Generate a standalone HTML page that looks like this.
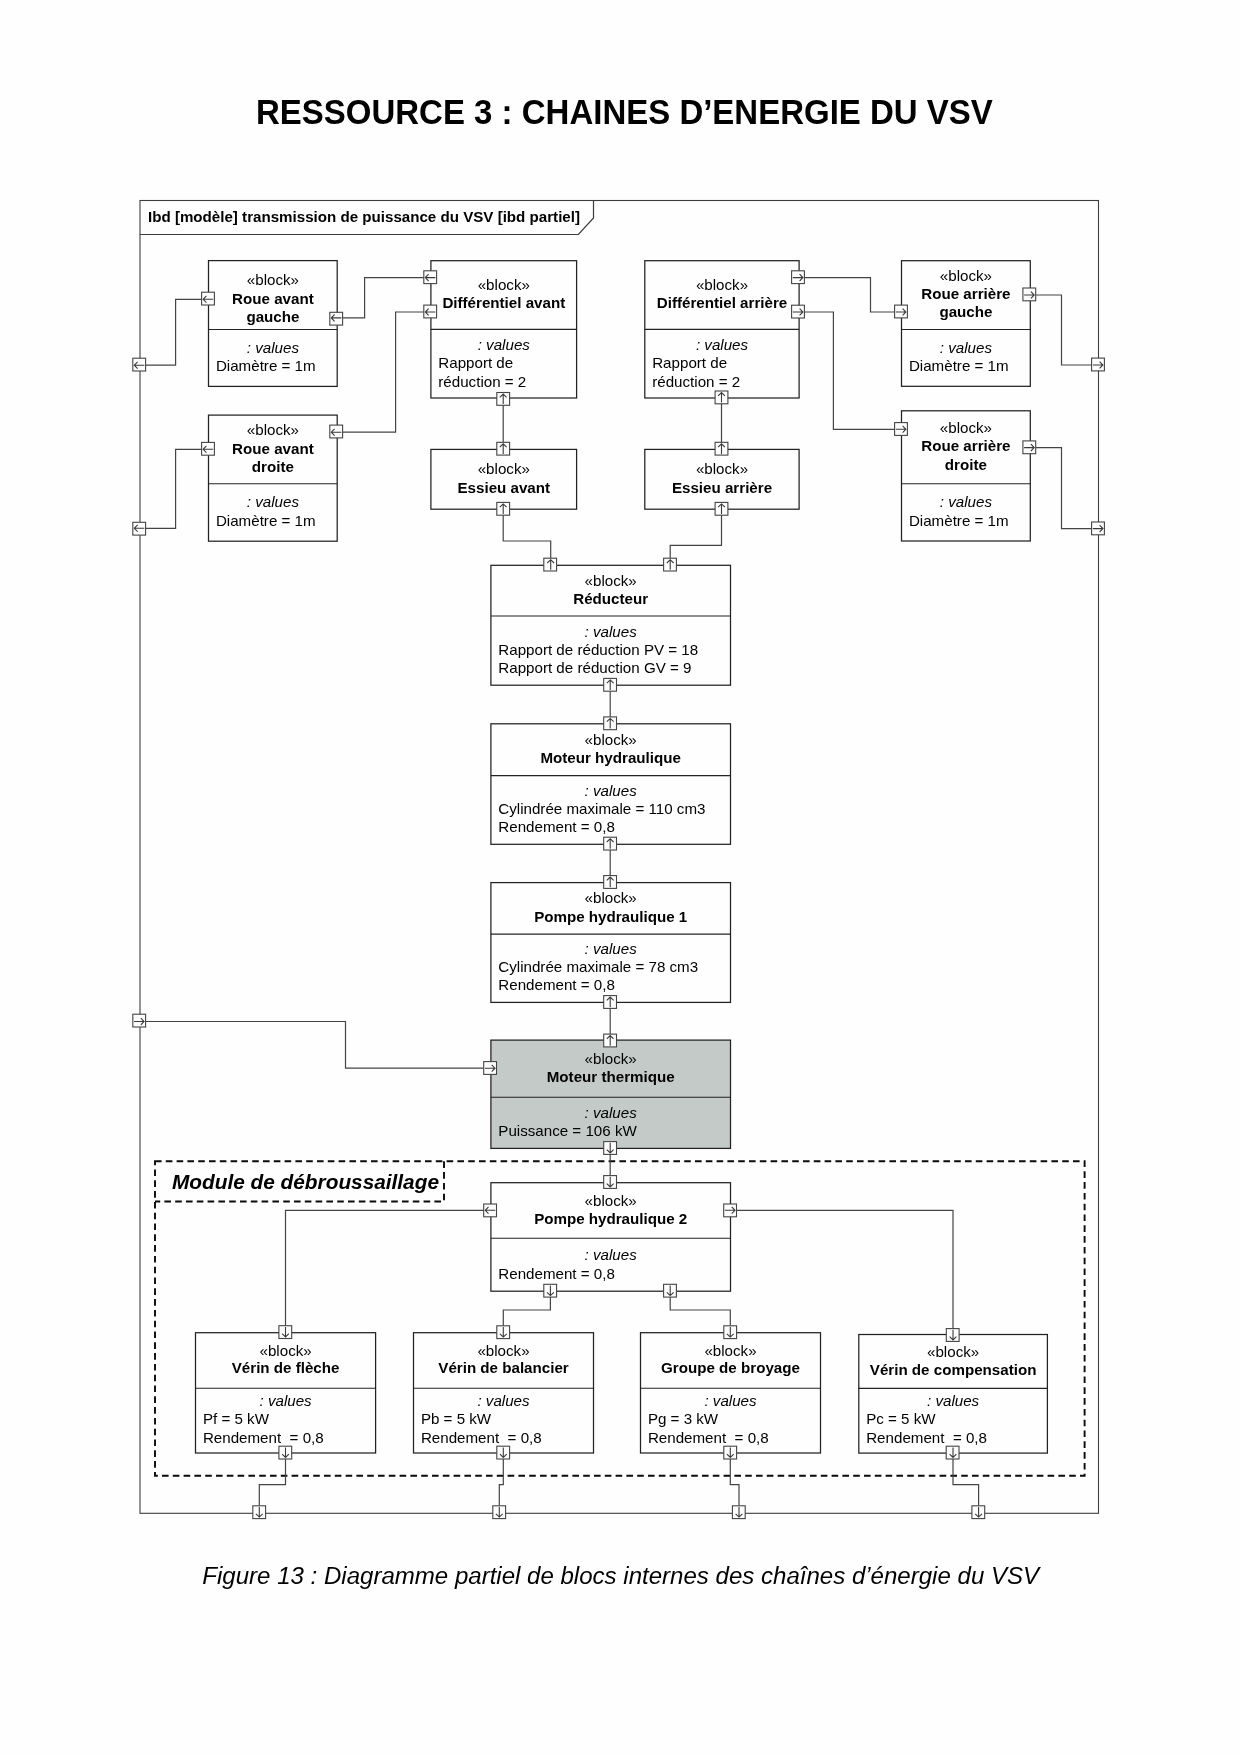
<!DOCTYPE html>
<html lang="fr"><head><meta charset="utf-8"><title>RESSOURCE 3 : CHAINES D’ENERGIE DU VSV</title>
<style>html,body{margin:0;padding:0;background:#fefefe}body{width:1240px;height:1754px;overflow:hidden}svg{display:block;font-family:"Liberation Sans",sans-serif;will-change:transform;opacity:.999}</style></head><body>
<svg width="1240" height="1754" viewBox="0 0 1240 1754" font-family="Liberation Sans, sans-serif" font-size="15.15" fill="#000">
<rect x="0" y="0" width="1240" height="1754" fill="#fefefe"/>
<g transform="translate(624.4 123.8) scale(1 1.055)">
<text x="0" y="0" text-anchor="middle" font-weight="bold" font-size="33.0">RESSOURCE 3 : CHAINES D’ENERGIE DU VSV</text>
</g>
<rect x="140.0" y="200.5" width="958.5" height="1312.8" fill="none" stroke="#3c3c3c" stroke-width="1.1"/>
<path d="M140.0 234.5 H578.4 L593.5 218 V200.5" fill="none" stroke="#3c3c3c" stroke-width="1.2"/>
<text x="148.0" y="222.1" font-weight="bold" font-size="15.14">Ibd [modèle] transmission de puissance du VSV [ibd partiel]</text>
<g fill="none" stroke="#0a0a0a" stroke-width="1.9" stroke-dasharray="6.6 4.2">
<rect x="155.0" y="1161.3" width="929.6" height="314.4"/>
<path d="M444.0 1161.3 V1201.5 H155.0"/>
</g>
<text x="172.0" y="1188.6" font-weight="bold" font-style="italic" font-size="20.8">Module de débroussaillage</text>
<g fill="none" stroke="#444" stroke-width="1.2" stroke-linejoin="miter">
<path d="M430.2 277.6 L364.6 277.6 L364.6 317.9 L336.5 317.9"/>
<path d="M430.2 312.0 L395.6 312.0 L395.6 432.2 L336.5 432.2"/>
<path d="M208.0 299.3 L175.6 299.3 L175.6 365.2 L139.5 365.2"/>
<path d="M208.0 449.3 L175.6 449.3 L175.6 528.3 L139.5 528.3"/>
<path d="M503.2 449.0 L503.2 398.0"/>
<path d="M503.2 509.0 L503.2 541.0 L550.7 541.0 L550.7 565.0"/>
<path d="M721.5 449.0 L721.5 398.0"/>
<path d="M721.5 509.0 L721.5 545.3 L670.2 545.3 L670.2 565.0"/>
<path d="M798.5 277.6 L870.5 277.6 L870.5 312.0 L901.0 312.0"/>
<path d="M798.5 312.0 L833.4 312.0 L833.4 429.3 L901.0 429.3"/>
<path d="M1029.5 295.0 L1061.5 295.0 L1061.5 365.0 L1098.0 365.0"/>
<path d="M1029.5 447.6 L1061.5 447.6 L1061.5 528.6 L1098.0 528.6"/>
<path d="M610.2 685.0 L610.2 724.0"/>
<path d="M610.2 844.0 L610.2 882.5"/>
<path d="M610.2 1002.0 L610.2 1040.5"/>
<path d="M610.2 1148.0 L610.2 1182.5"/>
<path d="M139.5 1021.5 L345.5 1021.5 L345.5 1068.2 L490.0 1068.2"/>
<path d="M490.0 1210.3 L285.5 1210.3 L285.5 1332.0"/>
<path d="M730.0 1210.3 L953.0 1210.3 L953.0 1334.0"/>
<path d="M550.4 1291.0 L550.4 1310.0 L503.3 1310.0 L503.3 1332.0"/>
<path d="M670.2 1291.0 L670.2 1310.0 L730.3 1310.0 L730.3 1332.0"/>
<path d="M285.5 1452.5 L285.5 1484.6 L259.3 1484.6 L259.3 1512.5"/>
<path d="M503.3 1452.5 L503.3 1484.6 L499.3 1484.6 L499.3 1512.5"/>
<path d="M730.3 1452.5 L730.3 1484.6 L739.0 1484.6 L739.0 1512.5"/>
<path d="M953.0 1452.5 L953.0 1484.6 L978.6 1484.6 L978.6 1512.5"/>
</g>
<rect x="208.5" y="260.6" width="128.7" height="125.8" fill="#fefefe" stroke="#222" stroke-width="1.25"/>
<path d="M208.5 329.5 H337.2" stroke="#222" stroke-width="1.1"/>
<text x="272.9" y="285.0" text-anchor="middle">«block»</text>
<text x="272.9" y="303.7" text-anchor="middle" font-weight="bold">Roue avant</text>
<text x="272.9" y="322.3" text-anchor="middle" font-weight="bold">gauche</text>
<text x="272.9" y="352.6" text-anchor="middle" font-style="italic">: values</text>
<text x="215.9" y="371.4">Diamètre = 1m</text>
<rect x="208.5" y="415.1" width="128.7" height="126.1" fill="#fefefe" stroke="#222" stroke-width="1.25"/>
<path d="M208.5 483.8 H337.2" stroke="#222" stroke-width="1.1"/>
<text x="272.9" y="435.0" text-anchor="middle">«block»</text>
<text x="272.9" y="453.7" text-anchor="middle" font-weight="bold">Roue avant</text>
<text x="272.9" y="472.0" text-anchor="middle" font-weight="bold">droite</text>
<text x="272.9" y="507.4" text-anchor="middle" font-style="italic">: values</text>
<text x="215.9" y="525.7">Diamètre = 1m</text>
<rect x="430.9" y="260.7" width="145.7" height="137.3" fill="#fefefe" stroke="#222" stroke-width="1.25"/>
<path d="M430.9 329.4 H576.6" stroke="#222" stroke-width="1.1"/>
<text x="503.8" y="289.6" text-anchor="middle">«block»</text>
<text x="503.8" y="307.7" text-anchor="middle" font-weight="bold">Différentiel avant</text>
<text x="503.8" y="349.6" text-anchor="middle" font-style="italic">: values</text>
<text x="438.3" y="368.1">Rapport de</text>
<text x="438.3" y="386.7">réduction = 2</text>
<rect x="430.9" y="449.4" width="145.7" height="59.8" fill="#fefefe" stroke="#222" stroke-width="1.25"/>
<text x="503.8" y="474.2" text-anchor="middle">«block»</text>
<text x="503.8" y="492.5" text-anchor="middle" font-weight="bold">Essieu avant</text>
<rect x="644.8" y="260.7" width="154.3" height="137.3" fill="#fefefe" stroke="#222" stroke-width="1.25"/>
<path d="M644.8 329.4 H799.1" stroke="#222" stroke-width="1.1"/>
<text x="722.0" y="289.6" text-anchor="middle">«block»</text>
<text x="722.0" y="307.7" text-anchor="middle" font-weight="bold">Différentiel arrière</text>
<text x="722.0" y="349.6" text-anchor="middle" font-style="italic">: values</text>
<text x="652.2" y="368.1">Rapport de</text>
<text x="652.2" y="386.7">réduction = 2</text>
<rect x="644.8" y="449.4" width="154.3" height="59.8" fill="#fefefe" stroke="#222" stroke-width="1.25"/>
<text x="722.0" y="474.2" text-anchor="middle">«block»</text>
<text x="722.0" y="492.5" text-anchor="middle" font-weight="bold">Essieu arrière</text>
<rect x="901.5" y="260.7" width="128.8" height="125.6" fill="#fefefe" stroke="#222" stroke-width="1.25"/>
<path d="M901.5 329.5 H1030.3" stroke="#222" stroke-width="1.1"/>
<text x="965.9" y="280.5" text-anchor="middle">«block»</text>
<text x="965.9" y="298.9" text-anchor="middle" font-weight="bold">Roue arrière</text>
<text x="965.9" y="317.3" text-anchor="middle" font-weight="bold">gauche</text>
<text x="965.9" y="352.6" text-anchor="middle" font-style="italic">: values</text>
<text x="908.9" y="371.4">Diamètre = 1m</text>
<rect x="901.5" y="410.8" width="128.8" height="130.2" fill="#fefefe" stroke="#222" stroke-width="1.25"/>
<path d="M901.5 483.8 H1030.3" stroke="#222" stroke-width="1.1"/>
<text x="965.9" y="432.5" text-anchor="middle">«block»</text>
<text x="965.9" y="451.3" text-anchor="middle" font-weight="bold">Roue arrière</text>
<text x="965.9" y="469.5" text-anchor="middle" font-weight="bold">droite</text>
<text x="965.9" y="507.4" text-anchor="middle" font-style="italic">: values</text>
<text x="908.9" y="525.7">Diamètre = 1m</text>
<rect x="490.9" y="565.3" width="239.6" height="119.9" fill="#fefefe" stroke="#222" stroke-width="1.25"/>
<path d="M490.9 616.0 H730.5" stroke="#222" stroke-width="1.1"/>
<text x="610.7" y="585.6" text-anchor="middle">«block»</text>
<text x="610.7" y="604.0" text-anchor="middle" font-weight="bold">Réducteur</text>
<text x="610.7" y="636.5" text-anchor="middle" font-style="italic">: values</text>
<text x="498.3" y="654.8">Rapport de réduction PV = 18</text>
<text x="498.3" y="673.3">Rapport de réduction GV = 9</text>
<rect x="490.9" y="723.8" width="239.6" height="120.5" fill="#fefefe" stroke="#222" stroke-width="1.25"/>
<path d="M490.9 775.6 H730.5" stroke="#222" stroke-width="1.1"/>
<text x="610.7" y="744.9" text-anchor="middle">«block»</text>
<text x="610.7" y="762.8" text-anchor="middle" font-weight="bold">Moteur hydraulique</text>
<text x="610.7" y="795.5" text-anchor="middle" font-style="italic">: values</text>
<text x="498.3" y="813.7">Cylindrée maximale = 110 cm3</text>
<text x="498.3" y="831.9">Rendement = 0,8</text>
<rect x="490.9" y="882.6" width="239.6" height="119.8" fill="#fefefe" stroke="#222" stroke-width="1.25"/>
<path d="M490.9 934.1 H730.5" stroke="#222" stroke-width="1.1"/>
<text x="610.7" y="903.4" text-anchor="middle">«block»</text>
<text x="610.7" y="921.5" text-anchor="middle" font-weight="bold">Pompe hydraulique 1</text>
<text x="610.7" y="953.8" text-anchor="middle" font-style="italic">: values</text>
<text x="498.3" y="972.3">Cylindrée maximale = 78 cm3</text>
<text x="498.3" y="990.3">Rendement = 0,8</text>
<rect x="490.9" y="1040.1" width="239.6" height="108.3" fill="#c3cac8" stroke="#222" stroke-width="1.25"/>
<path d="M490.9 1097.3 H730.5" stroke="#222" stroke-width="1.1"/>
<text x="610.7" y="1064.0" text-anchor="middle">«block»</text>
<text x="610.7" y="1082.0" text-anchor="middle" font-weight="bold">Moteur thermique</text>
<text x="610.7" y="1118.0" text-anchor="middle" font-style="italic">: values</text>
<text x="498.3" y="1135.5">Puissance = 106 kW</text>
<rect x="490.9" y="1182.7" width="239.6" height="108.5" fill="#fefefe" stroke="#222" stroke-width="1.25"/>
<path d="M490.9 1238.3 H730.5" stroke="#222" stroke-width="1.1"/>
<text x="610.7" y="1205.5" text-anchor="middle">«block»</text>
<text x="610.7" y="1223.6" text-anchor="middle" font-weight="bold">Pompe hydraulique 2</text>
<text x="610.7" y="1259.9" text-anchor="middle" font-style="italic">: values</text>
<text x="498.3" y="1278.7">Rendement = 0,8</text>
<rect x="195.5" y="1332.7" width="180.1" height="120.3" fill="#fefefe" stroke="#222" stroke-width="1.25"/>
<path d="M195.5 1388.3 H375.6" stroke="#222" stroke-width="1.1"/>
<text x="285.6" y="1355.5" text-anchor="middle">«block»</text>
<text x="285.6" y="1373.3" text-anchor="middle" font-weight="bold">Vérin de flèche</text>
<text x="285.6" y="1406.4" text-anchor="middle" font-style="italic">: values</text>
<text x="202.9" y="1424.3">Pf = 5 kW</text>
<text x="202.9" y="1442.9">Rendement  = 0,8</text>
<rect x="413.5" y="1332.7" width="180.0" height="120.3" fill="#fefefe" stroke="#222" stroke-width="1.25"/>
<path d="M413.5 1388.3 H593.5" stroke="#222" stroke-width="1.1"/>
<text x="503.5" y="1355.5" text-anchor="middle">«block»</text>
<text x="503.5" y="1373.3" text-anchor="middle" font-weight="bold">Vérin de balancier</text>
<text x="503.5" y="1406.4" text-anchor="middle" font-style="italic">: values</text>
<text x="420.9" y="1424.3">Pb = 5 kW</text>
<text x="420.9" y="1442.9">Rendement  = 0,8</text>
<rect x="640.5" y="1332.7" width="180.0" height="120.3" fill="#fefefe" stroke="#222" stroke-width="1.25"/>
<path d="M640.5 1388.3 H820.5" stroke="#222" stroke-width="1.1"/>
<text x="730.5" y="1355.5" text-anchor="middle">«block»</text>
<text x="730.5" y="1373.3" text-anchor="middle" font-weight="bold">Groupe de broyage</text>
<text x="730.5" y="1406.4" text-anchor="middle" font-style="italic">: values</text>
<text x="647.9" y="1424.3">Pg = 3 kW</text>
<text x="647.9" y="1442.9">Rendement  = 0,8</text>
<rect x="858.8" y="1334.5" width="188.6" height="118.6" fill="#fefefe" stroke="#222" stroke-width="1.25"/>
<path d="M858.8 1388.4 H1047.4" stroke="#222" stroke-width="1.1"/>
<text x="953.1" y="1357.0" text-anchor="middle">«block»</text>
<text x="953.1" y="1374.7" text-anchor="middle" font-weight="bold">Vérin de compensation</text>
<text x="953.1" y="1406.4" text-anchor="middle" font-style="italic">: values</text>
<text x="866.2" y="1424.3">Pc = 5 kW</text>
<text x="866.2" y="1442.9">Rendement  = 0,8</text>
<g fill="#fefefe" stroke="#444" stroke-width="1.1">
<rect x="423.80" y="270.80" width="12.8" height="12.8"/>
<rect x="423.80" y="305.10" width="12.8" height="12.8"/>
<rect x="329.80" y="312.30" width="12.8" height="12.8"/>
<rect x="329.80" y="425.10" width="12.8" height="12.8"/>
<rect x="201.60" y="292.20" width="12.8" height="12.8"/>
<rect x="201.60" y="442.40" width="12.8" height="12.8"/>
<rect x="132.80" y="358.20" width="12.8" height="12.8"/>
<rect x="132.80" y="522.30" width="12.8" height="12.8"/>
<rect x="496.80" y="392.50" width="12.8" height="12.8"/>
<rect x="496.80" y="442.30" width="12.8" height="12.8"/>
<rect x="496.80" y="502.40" width="12.8" height="12.8"/>
<rect x="543.80" y="558.20" width="12.8" height="12.8"/>
<rect x="715.10" y="391.00" width="12.8" height="12.8"/>
<rect x="715.10" y="442.30" width="12.8" height="12.8"/>
<rect x="715.10" y="502.40" width="12.8" height="12.8"/>
<rect x="663.60" y="558.20" width="12.8" height="12.8"/>
<rect x="791.60" y="270.80" width="12.8" height="12.8"/>
<rect x="791.60" y="305.20" width="12.8" height="12.8"/>
<rect x="894.60" y="305.10" width="12.8" height="12.8"/>
<rect x="894.60" y="422.60" width="12.8" height="12.8"/>
<rect x="1022.90" y="288.00" width="12.8" height="12.8"/>
<rect x="1022.90" y="440.90" width="12.8" height="12.8"/>
<rect x="1091.60" y="358.10" width="12.8" height="12.8"/>
<rect x="1091.60" y="522.00" width="12.8" height="12.8"/>
<rect x="603.70" y="678.40" width="12.8" height="12.8"/>
<rect x="603.70" y="716.90" width="12.8" height="12.8"/>
<rect x="603.70" y="837.20" width="12.8" height="12.8"/>
<rect x="603.70" y="875.60" width="12.8" height="12.8"/>
<rect x="603.70" y="995.60" width="12.8" height="12.8"/>
<rect x="603.70" y="1034.10" width="12.8" height="12.8"/>
<rect x="603.70" y="1141.60" width="12.8" height="12.8"/>
<rect x="603.70" y="1175.60" width="12.8" height="12.8"/>
<rect x="132.80" y="1014.20" width="12.8" height="12.8"/>
<rect x="483.70" y="1061.60" width="12.8" height="12.8"/>
<rect x="483.70" y="1204.00" width="12.8" height="12.8"/>
<rect x="723.70" y="1204.00" width="12.8" height="12.8"/>
<rect x="543.80" y="1284.30" width="12.8" height="12.8"/>
<rect x="663.60" y="1284.30" width="12.8" height="12.8"/>
<rect x="278.90" y="1325.70" width="12.8" height="12.8"/>
<rect x="496.80" y="1325.80" width="12.8" height="12.8"/>
<rect x="723.80" y="1325.80" width="12.8" height="12.8"/>
<rect x="946.30" y="1328.60" width="12.8" height="12.8"/>
<rect x="278.90" y="1446.20" width="12.8" height="12.8"/>
<rect x="496.80" y="1446.20" width="12.8" height="12.8"/>
<rect x="723.80" y="1446.20" width="12.8" height="12.8"/>
<rect x="946.20" y="1446.20" width="12.8" height="12.8"/>
<rect x="252.80" y="1505.80" width="12.8" height="12.8"/>
<rect x="492.80" y="1505.80" width="12.8" height="12.8"/>
<rect x="732.40" y="1505.80" width="12.8" height="12.8"/>
<rect x="971.90" y="1505.80" width="12.8" height="12.8"/>
</g>
<g fill="none" stroke="#3a3a3a" stroke-width="1.1">
<path d="M435.40 277.60 H425.30 M428.60 274.20 L425.30 277.60 L428.60 281.00"/>
<path d="M435.40 312.00 H425.30 M428.60 308.60 L425.30 312.00 L428.60 315.40"/>
<path d="M341.40 317.90 H331.30 M334.60 314.50 L331.30 317.90 L334.60 321.30"/>
<path d="M341.40 432.20 H331.30 M334.60 428.80 L331.30 432.20 L334.60 435.60"/>
<path d="M213.20 299.30 H203.10 M206.40 295.90 L203.10 299.30 L206.40 302.70"/>
<path d="M213.20 449.30 H203.10 M206.40 445.90 L203.10 449.30 L206.40 452.70"/>
<path d="M144.40 365.20 H134.30 M137.60 361.80 L134.30 365.20 L137.60 368.60"/>
<path d="M144.40 528.30 H134.30 M137.60 524.90 L134.30 528.30 L137.60 531.70"/>
<path d="M503.20 404.10 V394.00 M499.80 397.30 L503.20 394.00 L506.60 397.30"/>
<path d="M503.20 453.90 V443.80 M499.80 447.10 L503.20 443.80 L506.60 447.10"/>
<path d="M503.20 514.00 V503.90 M499.80 507.20 L503.20 503.90 L506.60 507.20"/>
<path d="M550.70 569.80 V559.70 M547.30 563.00 L550.70 559.70 L554.10 563.00"/>
<path d="M721.50 402.60 V392.50 M718.10 395.80 L721.50 392.50 L724.90 395.80"/>
<path d="M721.50 453.90 V443.80 M718.10 447.10 L721.50 443.80 L724.90 447.10"/>
<path d="M721.50 514.00 V503.90 M718.10 507.20 L721.50 503.90 L724.90 507.20"/>
<path d="M670.20 569.80 V559.70 M666.80 563.00 L670.20 559.70 L673.60 563.00"/>
<path d="M792.80 277.60 H802.90 M799.60 274.20 L802.90 277.60 L799.60 281.00"/>
<path d="M792.80 312.00 H802.90 M799.60 308.60 L802.90 312.00 L799.60 315.40"/>
<path d="M895.80 312.00 H905.90 M902.60 308.60 L905.90 312.00 L902.60 315.40"/>
<path d="M895.80 429.30 H905.90 M902.60 425.90 L905.90 429.30 L902.60 432.70"/>
<path d="M1024.10 295.00 H1034.20 M1030.90 291.60 L1034.20 295.00 L1030.90 298.40"/>
<path d="M1024.10 447.60 H1034.20 M1030.90 444.20 L1034.20 447.60 L1030.90 451.00"/>
<path d="M1092.80 365.00 H1102.90 M1099.60 361.60 L1102.90 365.00 L1099.60 368.40"/>
<path d="M1092.80 528.60 H1102.90 M1099.60 525.20 L1102.90 528.60 L1099.60 532.00"/>
<path d="M610.20 690.00 V679.90 M606.80 683.20 L610.20 679.90 L613.60 683.20"/>
<path d="M610.20 728.50 V718.40 M606.80 721.70 L610.20 718.40 L613.60 721.70"/>
<path d="M610.20 848.80 V838.70 M606.80 842.00 L610.20 838.70 L613.60 842.00"/>
<path d="M610.20 887.20 V877.10 M606.80 880.40 L610.20 877.10 L613.60 880.40"/>
<path d="M610.20 1007.20 V997.10 M606.80 1000.40 L610.20 997.10 L613.60 1000.40"/>
<path d="M610.20 1045.70 V1035.60 M606.80 1038.90 L610.20 1035.60 L613.60 1038.90"/>
<path d="M610.20 1142.80 V1152.90 M606.80 1149.60 L610.20 1152.90 L613.60 1149.60"/>
<path d="M610.20 1176.80 V1186.90 M606.80 1183.60 L610.20 1186.90 L613.60 1183.60"/>
<path d="M134.00 1021.50 H144.10 M140.80 1018.10 L144.10 1021.50 L140.80 1024.90"/>
<path d="M484.90 1068.20 H495.00 M491.70 1064.80 L495.00 1068.20 L491.70 1071.60"/>
<path d="M495.30 1210.30 H485.20 M488.50 1206.90 L485.20 1210.30 L488.50 1213.70"/>
<path d="M724.90 1210.30 H735.00 M731.70 1206.90 L735.00 1210.30 L731.70 1213.70"/>
<path d="M550.40 1285.50 V1295.60 M547.00 1292.30 L550.40 1295.60 L553.80 1292.30"/>
<path d="M670.20 1285.50 V1295.60 M666.80 1292.30 L670.20 1295.60 L673.60 1292.30"/>
<path d="M285.50 1326.90 V1337.00 M282.10 1333.70 L285.50 1337.00 L288.90 1333.70"/>
<path d="M503.30 1327.00 V1337.10 M499.90 1333.80 L503.30 1337.10 L506.70 1333.80"/>
<path d="M730.30 1327.00 V1337.10 M726.90 1333.80 L730.30 1337.10 L733.70 1333.80"/>
<path d="M953.00 1329.80 V1339.90 M949.60 1336.60 L953.00 1339.90 L956.40 1336.60"/>
<path d="M285.50 1447.40 V1457.50 M282.10 1454.20 L285.50 1457.50 L288.90 1454.20"/>
<path d="M503.30 1447.40 V1457.50 M499.90 1454.20 L503.30 1457.50 L506.70 1454.20"/>
<path d="M730.30 1447.40 V1457.50 M726.90 1454.20 L730.30 1457.50 L733.70 1454.20"/>
<path d="M953.00 1447.40 V1457.50 M949.60 1454.20 L953.00 1457.50 L956.40 1454.20"/>
<path d="M259.30 1507.00 V1517.10 M255.90 1513.80 L259.30 1517.10 L262.70 1513.80"/>
<path d="M499.30 1507.00 V1517.10 M495.90 1513.80 L499.30 1517.10 L502.70 1513.80"/>
<path d="M739.00 1507.00 V1517.10 M735.60 1513.80 L739.00 1517.10 L742.40 1513.80"/>
<path d="M978.60 1507.00 V1517.10 M975.20 1513.80 L978.60 1517.10 L982.00 1513.80"/>
</g>
<text x="202.3" y="1583.5" font-style="italic" font-size="24.05">Figure 13 : Diagramme partiel de blocs internes des chaînes d’énergie du VSV</text>
</svg></body></html>
